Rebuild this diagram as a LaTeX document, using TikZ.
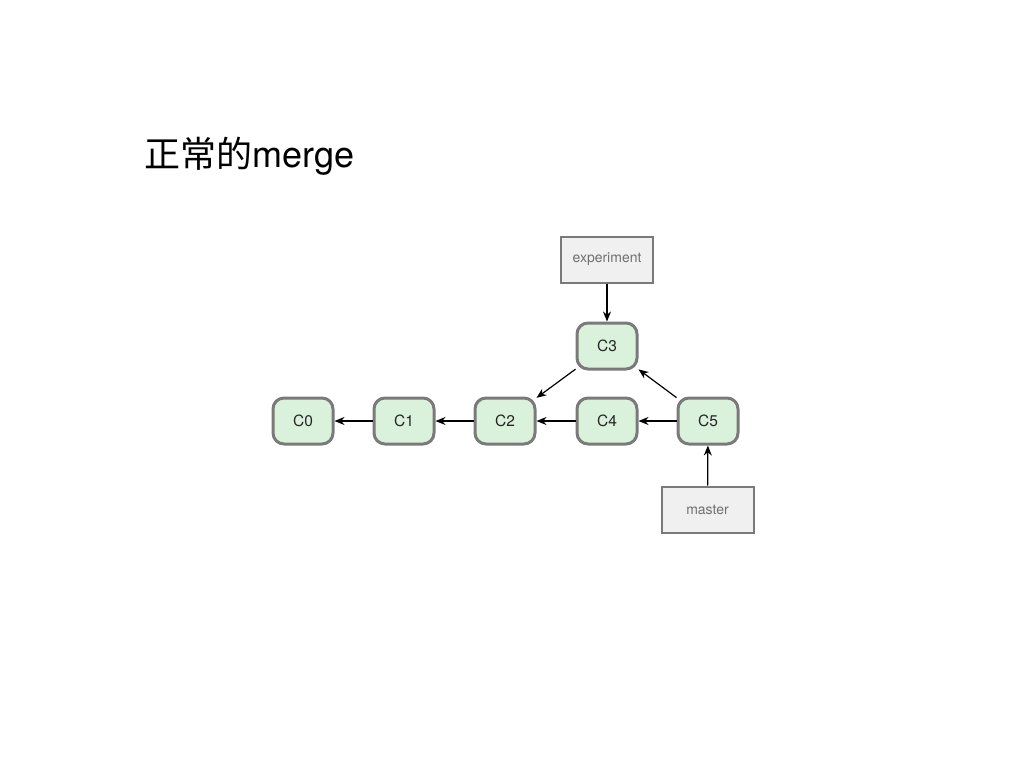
\documentclass[tikz,border=0pt]{standalone}
\usepackage{fontspec}
\setmainfont{TeX Gyre Heros}
\newfontfamily\cjk{Noto Sans CJK SC}
\usetikzlibrary{arrows.meta}
\definecolor{cfill}{HTML}{DAF1DB}
\definecolor{cborder}{HTML}{7A7A7A}
\definecolor{bfill}{HTML}{F0F0F0}
\definecolor{btext}{HTML}{707070}
\begin{document}
\begin{tikzpicture}[x=1pt,y=-1pt,
  commit/.style={draw=cborder,line width=3pt,fill=cfill,rounded corners=11pt,
    minimum width=60pt,minimum height=46pt,inner sep=0pt,font=\fontsize{15.5}{17}\selectfont,text=black!85},
  branch/.style={draw=cborder,line width=2pt,fill=bfill,minimum width=92pt,minimum height=46pt,
    inner sep=0pt,font=\fontsize{14}{16}\selectfont,text=btext},
  link/.style={draw=black,line width=1.2pt,-{Stealth[length=10pt,width=8pt]}}]
\useasboundingbox (0,0) rectangle (1024,768);
\node[anchor=base west,inner sep=0pt,font=\fontsize{36}{42}\selectfont] (title) at (144,167) {{\cjk 正常的}merge};
\node[commit] (c0) at (303,421) {C0};
\node[commit] (c1) at (404,421) {C1};
\node[commit] (c2) at (505,421) {C2};
\node[commit] (c4) at (607,421) {C4};
\node[commit] (c5) at (708,421) {C5};
\node[commit] (c3) at (607,346) {C3};
\node[branch] (exp) at (607,259.5) {experiment};
\node[branch] (mas) at (707.5,509.5) {master};
\draw[link] (c1) -- (c0);
\draw[link] (c2) -- (c1);
\draw[link] (c4) -- (c2);
\draw[link] (c5) -- (c4);
\draw[link] (c3) -- (c2);
\draw[link] (c5) -- (c3);
\draw[link] (exp) -- (c3);
\draw[link] (mas) -- (c5);
\end{tikzpicture}
\end{document}
